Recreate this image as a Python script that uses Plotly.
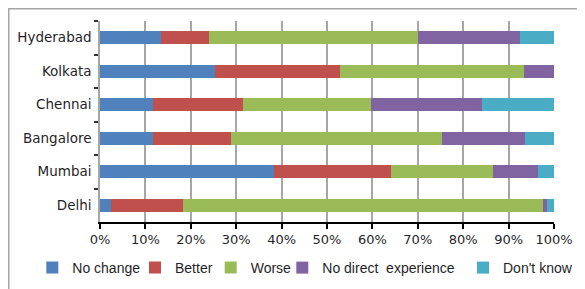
import plotly.graph_objects as go

cities = ["Hyderabad", "Kolkata", "Chennai", "Bangalore", "Mumbai", "Delhi"]
no_change = [13.4, 25.3, 11.7, 11.6, 38.3, 2.4]
better = [10.5, 27.6, 19.9, 17.3, 25.8, 15.8]
worse = [46.1, 40.4, 28.2, 46.5, 22.4, 79.4]
no_direct = [22.6, 6.7, 24.4, 18.3, 10.0, 0.9]
dont_know = [7.4, 0.0, 15.8, 6.3, 3.5, 1.5]

series = [
    ("No change", no_change, "#4F81BD", 57.7),
    ("Better", better, "#C0504D", 30.7),
    ("Worse", worse, "#9BBB59", 26.6),
    ("No direct  experience", no_direct, "#8064A2", 135.7),
    ("Don't know", dont_know, "#4BACC6", 73),
]

# the page body adds an 8px offset; figure sized to fill the rest of the window
OFF = 8
W, H = 585 - OFF, 289 - OFF
L, R, T, B = 100 - OFF, 31, 21 - OFF, 67

fig = go.Figure()
for name, vals, col, lw in series:
    fig.add_trace(go.Bar(
        y=cities, x=vals, name=name, orientation="h",
        marker=dict(color=col, line=dict(width=0)),
        legendwidth=lw,
    ))

pw = W - L - R
ph = H - T - B
bottom = T + ph

fig.update_layout(
    width=W, height=H,
    margin=dict(l=L, r=R, t=T, b=B, pad=0, autoexpand=False),
    barmode="stack",
    bargap=0.61,
    paper_bgcolor="white",
    plot_bgcolor="white",
    font=dict(family="DejaVu Sans", size=13, color="#1f1f2a"),
    legend=dict(
        orientation="h",
        xref="paper", yref="paper",
        x=(32.3 - OFF - L) / pw, xanchor="left",
        y=(bottom - (268 - OFF)) / ph, yanchor="middle",
        font=dict(family="Liberation Sans", size=14, color="#1f1f2a"),
        itemwidth=30,
        traceorder="normal",
        tracegroupgap=0,
        borderwidth=0,
    ),
    showlegend=True,
    shapes=[dict(
        type="rect", xref="paper", yref="paper",
        x0=(0.75 - L) / pw, x1=(620 - L) / pw,
        y0=(bottom - 320) / ph, y1=(bottom - 0.75) / ph,
        line=dict(color="#A6A6A6", width=1.5),
        fillcolor="rgba(0,0,0,0)", layer="below",
    )],
)

fig.update_xaxes(
    range=[0, 100], dtick=10, ticksuffix="%",
    showgrid=True, gridcolor="#A6A6A6", gridwidth=1.5,
    showline=True, linecolor="#000000", linewidth=1.5,
    ticks="outside", ticklen=5, tickcolor="#000000", tickwidth=1.5,
    zeroline=False,
    tickfont=dict(family="DejaVu Sans", size=13, color="#1f1f2a"),
)
fig.update_yaxes(
    autorange="reversed",
    tickson="boundaries",
    showline=True, linecolor="#A6A6A6", linewidth=1.5,
    ticks="outside", ticklen=4, tickcolor="#333333", tickwidth=1.5,
    showgrid=False,
    ticklabelstandoff=4,
    tickfont=dict(family="DejaVu Sans", size=13.5, color="#1f1f2a"),
)

fig.write_html("out.html")
